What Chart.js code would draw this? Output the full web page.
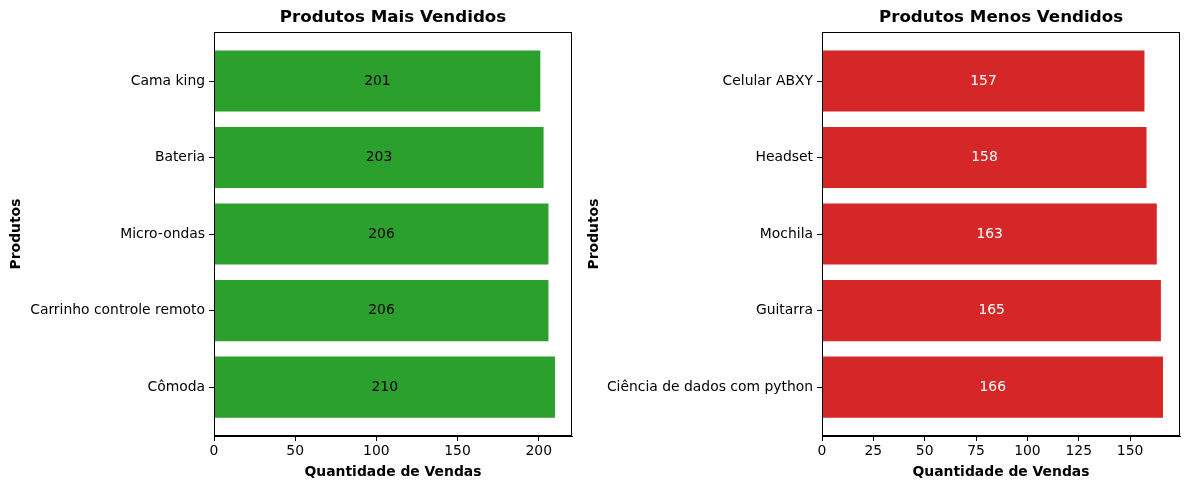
<!DOCTYPE html>
<html>
<head>
<meta charset="utf-8">
<script src="https://cdn.jsdelivr.net/npm/chart.js@4"></script>
<style>
    html, body { margin: 0; padding: 0; background: #fff; }
    body { width: 1189px; height: 490px; position: relative; overflow: hidden; }
    .box { position: absolute; top: 0; height: 490px; }
</style>
</head>
<body>
<div class="box" id="leftBox" style="left:0;width:578px"><canvas id="maisChart"></canvas></div>
<div class="box" id="rightBox" style="left:578px;width:611px"><canvas id="menosChart"></canvas></div>
<script>
// Data (top to bottom as shown)
const maisProdutos = ['Cama king', 'Bateria', 'Micro-ondas', 'Carrinho controle remoto', 'Cômoda'];
const maisVendas = [201, 203, 206, 206, 210];
const menosProdutos = ['Celular ABXY', 'Headset', 'Mochila', 'Guitarra', 'Ciência de dados com python'];
const menosVendas = [157, 158, 163, 165, 166];
const maisTicks = [0, 50, 100, 150, 200];
const menosTicks = [0, 25, 50, 75, 100, 125, 150];

const FONT = 'DejaVu Sans';
Chart.defaults.font.family = FONT;
Chart.defaults.color = '#000';

// matplotlib-like frame around the plot area
const framePlugin = {
    id: 'frame',
    afterDraw(chart) {
        const a = chart.chartArea;
        const ctx = chart.ctx;
        ctx.save();
        ctx.strokeStyle = '#000';
        ctx.lineWidth = 1;
        ctx.strokeRect(Math.round(a.left) + 0.5, Math.round(a.top) + 0.5,
            Math.round(a.right - a.left) - 1, Math.round(a.bottom - a.top) - 1);
        ctx.restore();
    }
};

// value written in the middle of each bar
const barLabels = {
    id: 'barLabels',
    afterDatasetsDraw(chart, args, opts) {
        const ctx = chart.ctx;
        const meta = chart.getDatasetMeta(0);
        const data = chart.data.datasets[0].data;
        ctx.save();
        ctx.font = '13.9px ' + FONT;
        ctx.fillStyle = opts.color;
        ctx.textAlign = 'center';
        ctx.textBaseline = 'middle';
        meta.data.forEach((bar, i) => {
            ctx.fillText(String(data[i].x), (bar.x + bar.base) / 2, bar.y);
        });
        ctx.restore();
    }
};

function makeChart(id, produtos, vendas, ticks, color, textColor, yWidth, padRight, title) {
    const ctx = document.getElementById(id).getContext('2d');
    const xMax = Math.max(...vendas) * 1.05;
    return new Chart(ctx, {
        type: 'bar',
        data: {
            datasets: [{
                data: vendas.map((v, i) => ({ x: v, y: i })),
                backgroundColor: color,
                borderWidth: 0,
                barPercentage: 0.8,
                categoryPercentage: 1
            }]
        },
        options: {
            indexAxis: 'y',
            responsive: true,
            maintainAspectRatio: false,
            animation: false,
            events: [],
            layout: { padding: { left: 0, right: padRight, top: 0, bottom: 0 } },
            plugins: {
                legend: { display: false },
                tooltip: { enabled: false },
                title: {
                    display: true,
                    text: title,
                    fullSize: false,
                    font: { size: 16.7, weight: 'bold' },
                    color: '#000',
                    padding: { top: 8, bottom: 4 }
                },
                barLabels: { color: textColor }
            },
            scales: {
                x: {
                    type: 'linear',
                    min: 0,
                    max: xMax,
                    afterBuildTicks: s => { s.ticks = ticks.map(v => ({ value: v })); },
                    afterFit: s => { s.height = 54; },
                    ticks: { font: { size: 13.9 }, color: '#000', padding: 2, maxRotation: 0 },
                    grid: { drawOnChartArea: false, drawTicks: true, tickLength: 5, color: '#000' },
                    border: { display: true, color: '#000', width: 1 },
                    title: {
                        display: true,
                        text: 'Quantidade de Vendas',
                        font: { size: 13.9, weight: 'bold' },
                        color: '#000',
                        padding: { top: 0, bottom: 9.6 }
                    }
                },
                y: {
                    type: 'linear',
                    reverse: true,
                    offset: false,
                    min: -0.64,
                    max: produtos.length - 1 + 0.64,
                    afterBuildTicks: s => { s.ticks = produtos.map((p, i) => ({ value: i })); },
                    afterFit: s => { s.width = yWidth; },
                    ticks: {
                        font: { size: 13.9 },
                        color: '#000',
                        padding: 4,
                        callback: v => produtos[v]
                    },
                    grid: { offset: false, drawOnChartArea: false, drawTicks: true, tickLength: 5, color: '#000' },
                    border: { display: true, color: '#000', width: 1 },
                    title: {
                        display: true,
                        text: 'Produtos',
                        font: { size: 13.9, weight: 'bold' },
                        color: '#000',
                        padding: { top: 8, bottom: 0 }
                    }
                }
            }
        },
        plugins: [framePlugin, barLabels]
    });
}

makeChart('maisChart', maisProdutos, maisVendas, maisTicks, '#2ca02c', '#000', 214, 6, 'Produtos Mais Vendidos');
makeChart('menosChart', menosProdutos, menosVendas, menosTicks, '#d62728', '#fff', 244, 9, 'Produtos Menos Vendidos');
</script>
</body>
</html>
